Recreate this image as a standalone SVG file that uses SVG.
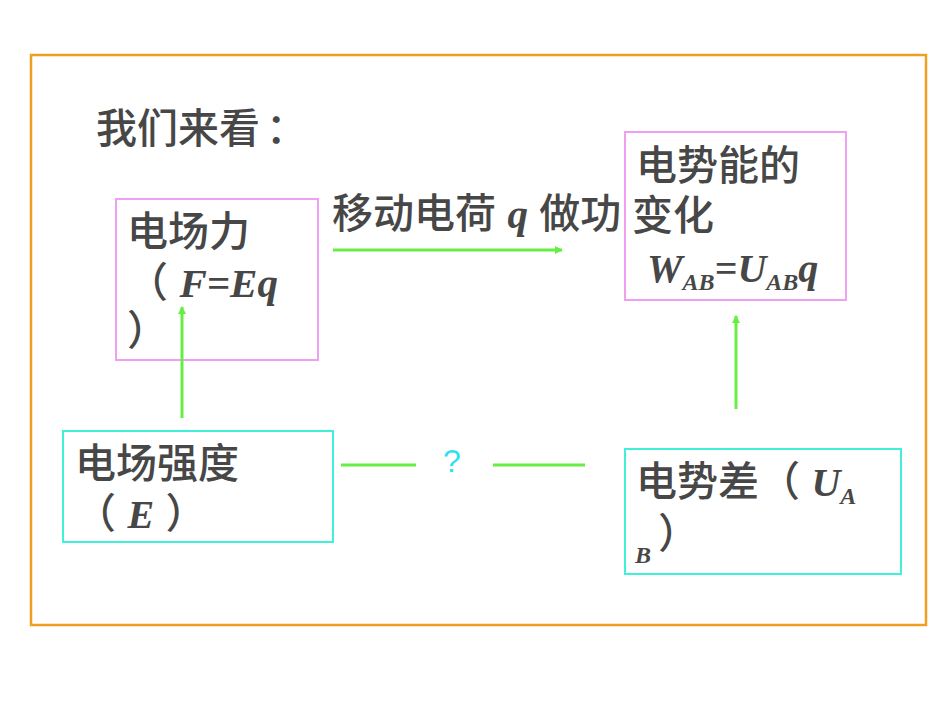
<svg xmlns="http://www.w3.org/2000/svg" width="950" height="713" viewBox="0 0 950 713">
<style>
.t{font-family:"Liberation Sans","Noto Sans CJK SC",sans-serif;font-size:41px;font-weight:500;fill:#474747}
.m{font-family:"Liberation Serif",serif;font-weight:bold;font-style:italic;fill:#474747}
.pink{fill:none;stroke:#f0a0f0;stroke-width:2}
.cyan{fill:none;stroke:#40f0d8;stroke-width:2}
.g{stroke:#66ee44;stroke-width:3;fill:none}
</style>
<defs>
<marker id="ah" markerWidth="8" markerHeight="8" refX="7" refY="4" orient="auto" markerUnits="userSpaceOnUse">
<path d="M0,0 L8,4 L0,8 z" fill="#66ee44"/>
</marker>
</defs>
<rect x="31" y="55" width="895" height="570" fill="none" stroke="#f0a020" stroke-width="2.5"/>
<g id="title"><text class="t" x="96" y="143">我们来看<tspan dx="6">：</tspan></text></g>
<g id="force">
<rect class="pink" x="116" y="199" width="202" height="161"/>
<text class="t" x="127" y="246">电场力</text>
<text class="t" x="127" y="297">（ <tspan class="m" font-size="41">F=Eq</tspan></text>
<text class="t" x="127" y="345">）</text>
</g>
<g id="energy">
<rect class="pink" x="625" y="132" width="221" height="168"/>
<text class="t" x="636" y="180">电势能的</text>
<text class="t" x="632" y="230">变化</text>
<text class="m" x="647" y="282" font-size="40">W<tspan font-size="24" dy="8">AB</tspan><tspan dy="-8">=U</tspan><tspan font-size="24" dy="8">AB</tspan><tspan dy="-8">q</tspan></text>
</g>
<g id="field">
<rect class="cyan" x="63" y="431" width="270" height="111"/>
<text class="t" x="75" y="478">电场强度</text>
<text class="t" x="75" y="528">（ <tspan class="m" font-size="40">E</tspan> ）</text>
</g>
<g id="potential">
<rect class="cyan" x="625" y="449" width="276" height="125"/>
<text class="t" x="636" y="496">电势差（ <tspan class="m" font-size="40">U</tspan><tspan class="m" font-size="24" dy="8">A</tspan></text>
<text class="m" x="635" y="563" font-size="24">B</text>
<text class="t" x="658" y="548">）</text>
</g>
<g id="connectors">
<text class="t" x="332" y="228">移动电荷 <tspan class="m" font-size="41">q</tspan> 做功</text>
<line class="g" x1="333" y1="250" x2="562" y2="250" marker-end="url(#ah)" stroke-width="2.5"/>
<line class="g" x1="182" y1="418" x2="182" y2="307" marker-end="url(#ah)"/>
<line class="g" x1="736" y1="409" x2="736" y2="316" marker-end="url(#ah)"/>
<line class="g" x1="341" y1="465" x2="416" y2="465"/>
<line class="g" x1="493" y1="465" x2="585" y2="465"/>
<text x="443" y="472" font-family="Liberation Sans, sans-serif" font-size="32" fill="#30e0f0">?</text>
</g>
</svg>
